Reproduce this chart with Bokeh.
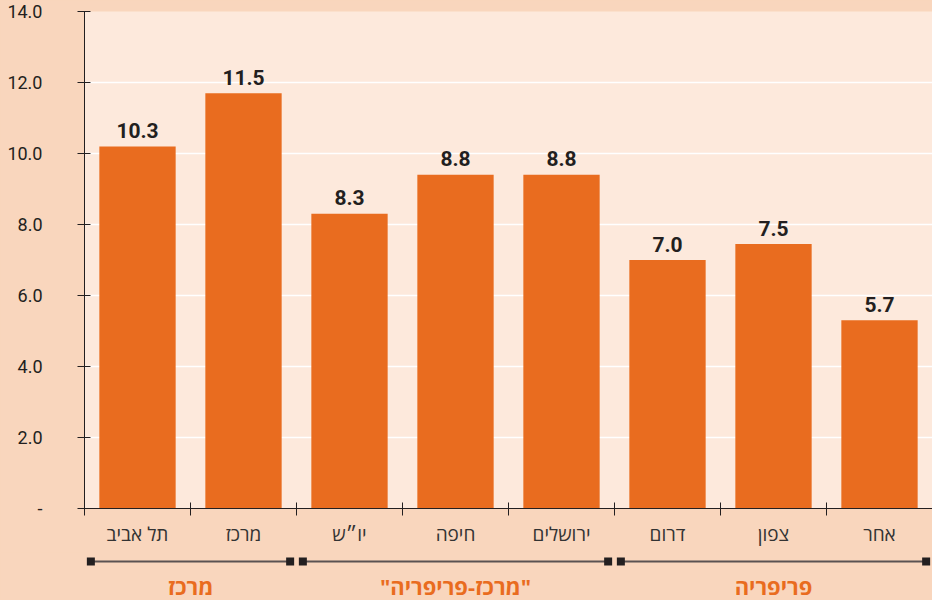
from bokeh.plotting import figure
from bokeh.models import Range1d, FixedTicker, ColumnDataSource
from bokeh.layouts import column
from bokeh.embed import file_html
from bokeh.resources import INLINE
from bokeh.core.properties import value

# ---- data ----
categories = ["תל אביב", "מרכז", "יו״ש", "חיפה", "ירושלים", "דרום", "צפון", "אחר"]
bar_values = [10.2, 11.7, 8.3, 9.4, 9.4, 7.0, 7.45, 5.3]
value_labels = ["10.3", "11.5", "8.3", "8.8", "8.8", "7.0", "7.5", "5.7"]
group_names = ["מרכז", "\"מרכז-פריפריה\"", "פריפריה"]
group_sizes = [2, 3, 3]
ytick_values = [0, 2, 4, 6, 8, 10, 12, 14]
ytick_labels = ["-", "2.0", "4.0", "6.0", "8.0", "10.0", "12.0", "14.0"]

ORANGE = "#E96C1F"
OUTER_BG = "#F9D6BD"
PLOT_BG = "#FDE9DC"
DARK = "#231F20"
HEB_FONT = "Open Sans, Liberation Sans, DejaVu Sans"
NUM_FONT = "Roboto"

n = len(categories)
xs = [i + 0.5 for i in range(n)]

W = 932
H1 = 552
H2 = 48
p = figure(width=W, height=H1, x_range=Range1d(0, n), y_range=Range1d(0, 14),
           output_backend="svg", toolbar_location=None,
           min_border_left=84, min_border_right=0, min_border_top=11, min_border_bottom=44)
p.background_fill_color = PLOT_BG
p.border_fill_color = OUTER_BG
p.outline_line_color = None

src = ColumnDataSource(dict(x=xs, top=bar_values, lab=value_labels))
p.vbar(x="x", top="top", width=0.72, bottom=0, source=src, fill_color=ORANGE, line_color=None)
p.text(x="x", y="top", text="lab", source=src, text_align="center", text_baseline="alphabetic",
       y_offset=-16, text_font=value(NUM_FONT), text_font_style="bold",
       text_font_size="21px", text_color=DARK)

# grid
p.xgrid.visible = False
p.ygrid.ticker = FixedTicker(ticks=ytick_values)
p.ygrid.grid_line_color = "white"
p.ygrid.grid_line_width = 1.5

# y axis
ya = p.yaxis[0]
ya.ticker = FixedTicker(ticks=ytick_values)
ya.major_label_overrides = {v: l for v, l in zip(ytick_values, ytick_labels)}
ya.axis_line_color = DARK
ya.major_tick_line_color = DARK
ya.major_tick_in = 6
ya.major_tick_out = 7
ya.minor_tick_line_color = None
ya.major_label_standoff = 35
ya.major_label_text_font = NUM_FONT
ya.major_label_text_font_size = "18px"
ya.major_label_text_color = DARK

# x axis
xa = p.xaxis[0]
xa.ticker = FixedTicker(ticks=xs, minor_ticks=list(range(n + 1)))
xa.major_label_overrides = {x: c for x, c in zip(xs, categories)}
xa.major_tick_line_color = None
xa.major_tick_in = 0
xa.major_tick_out = 0
xa.minor_tick_line_color = DARK
xa.minor_tick_in = 6
xa.minor_tick_out = 7
xa.axis_line_color = DARK
xa.major_label_standoff = 5
xa.major_label_text_font = HEB_FONT
xa.major_label_text_font_size = "19px"
xa.major_label_text_color = "#333333"

# ---- bottom strip with group brackets ----
p2 = figure(width=W, height=H2, x_range=p.x_range, y_range=Range1d(H2, 0),
            output_backend="svg", toolbar_location=None,
            x_axis_type=None, y_axis_type=None,
            min_border_left=84, min_border_right=0, min_border_top=0, min_border_bottom=0)
p2.background_fill_color = OUTER_BG
p2.border_fill_color = OUTER_BG
p2.outline_line_color = None
p2.grid.visible = False

starts, ends, centers = [], [], []
acc = 0
for s in group_sizes:
    starts.append(acc + 0.06)
    ends.append(acc + s - 0.06)
    centers.append(acc + s / 2)
    acc += s
gy = [9] * len(group_sizes)
p2.segment(x0=starts, y0=gy, x1=ends, y1=gy, line_color="#5A5252", line_width=2)
p2.scatter(x=starts + ends, y=gy + gy, marker="square", size=8, fill_color=DARK, line_color=None)
p2.text(x=centers, y=[33] * len(centers), text=group_names, text_align="center",
        text_baseline="middle", text_font=value(HEB_FONT), text_font_style="bold",
        text_font_size="22px", text_color=ORANGE)

layout = column(p, p2, spacing=0, styles={"background-color": OUTER_BG})
html = file_html(layout, INLINE)
html = html.replace("<body>", '<body style="background-color:%s;">' % OUTER_BG, 1)
open("out.html", "w").write(html)
